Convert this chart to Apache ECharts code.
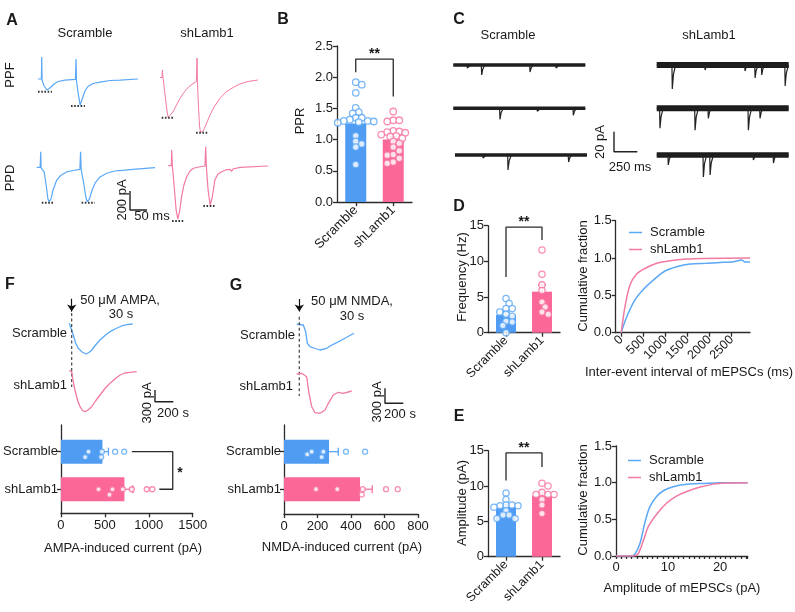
<!DOCTYPE html>
<html><head><meta charset="utf-8">
<script src="https://cdn.jsdelivr.net/npm/echarts@6/dist/echarts.min.js"></script>
<style>html,body{margin:0;padding:0;background:#fff}#c{width:795px;height:612px}</style>
</head><body><div id="c"></div>
<script>
// ================= DATA =================
const groups = ['Scramble', 'shLamb1'];

// Panel A traces: [time (ms), current (pA)]
const ppfScramble = [[0,0],[10,0],[11,232],[12,-11],[18,-74],[26,-116],[35,-95],[47,-53],[59,-26],[79,-11],[110,-3],[112,211],[113,-11],[118,-147],[124,-274],[129,-221],[138,-126],[147,-79],[162,-47],[182,-32],[212,-16],[241,-11],[294,0]];
const ppfShLamb1 = [[0,0],[6,0],[7,79],[9,-5],[15,-184],[21,-363],[24,-419],[29,-405],[38,-363],[47,-300],[56,-237],[65,-184],[77,-126],[88,-89],[100,-58],[107,-42],[109,205],[110,-47],[113,-289],[116,-500],[119,-579],[127,-563],[135,-500],[147,-395],[159,-311],[177,-216],[194,-153],[215,-105],[235,-68],[259,-42],[288,-26]];
const ppdScramble = [[0,0],[10,-2],[12,164],[13,-7],[22,-49],[29,-218],[33,-334],[37,-362],[42,-334],[48,-239],[59,-134],[72,-81],[88,-49],[107,-34],[127,-21],[129,164],[131,-28],[139,-186],[145,-323],[149,-362],[155,-334],[163,-239],[172,-165],[186,-102],[206,-63],[224,-44],[239,-34],[242,-55],[245,-34],[283,-21],[348,-4]];
const ppdShLamb1 = [[0,0],[9,0],[10,165],[12,-3],[17,-203],[23,-466],[28,-561],[33,-487],[39,-329],[46,-203],[54,-116],[64,-56],[74,-27],[90,-14],[108,-3],[110,200],[112,-14],[117,-256],[123,-414],[129,-340],[137,-151],[146,-87],[157,-63],[170,-43],[182,-38],[186,-61],[190,-35],[211,-17],[294,-3]];
// peak markers (dotted) [[t0,I],[t1,I]]
const ppfScramblePeaks = [[[0,-134],[41,-134]], [[97,-284],[138,-284]]];
const ppfShLamb1Peaks = [[[5,-423],[39,-423]], [[106,-581],[141,-581]]];
const ppdScramblePeaks = [[[15,-373],[49,-373]], [[132,-373],[171,-373]]];
const ppdShLamb1Peaks = [[[11,-582],[46,-582]], [[103,-425],[137,-425]]];
const scaleA = [[0,200],[0,0],[50,0]];  // 200 pA, 50 ms

// Panel B: paired-pulse ratio
const pprMean = [1.26, 1.00];
const pprSem = [0.07, 0.05];
const pprScramble = [1.92,1.88,1.75,1.51,1.44,1.42,1.35,1.35,1.32,1.30,1.30,1.29,1.28,1.27,1.06,0.97,0.93,0.88,0.60];
const pprShLamb1 = [1.45,1.31,1.31,1.29,1.14,1.13,1.12,1.11,1.08,1.06,1.05,1.02,0.97,0.94,0.88,0.82,0.76,0.75,0.70,0.64,0.62];
const pprSig = [[0.5,2.08],[0.5,2.29],[1.5,2.29],[1.5,1.69]];

// Panel C: mEPSC events [time (ms), amplitude (pA)] per sweep
const cScramble1 = [[304,10],[822,7],[150,3],[1100,3]];
const cScramble2 = [[500,11],[1286,7],[900,3]];
const cScramble3 = [[568,15],[1217,7],[300,3]];
const cShLamb1_1 = [[167,24],[518,5],[946,6],[1054,13],[1125,10],[1376,21]];
const cShLamb1_2 = [[35,20],[411,22],[553,10],[982,22],[1107,10]];
const cShLamb1_3 = [[124,10],[500,22],[572,20],[1036,5],[1251,8]];
const scaleC = [[0,20],[0,0],[250,0]];  // 20 pA, 250 ms

// Panel D: mEPSC frequency (Hz)
const freqMean = [2.48, 5.75];
const freqSem = [0.42, 0.95];
const freqScramble = [4.8,4.1,3.4,3.4,2.9,2.6,2.3,1.6,1.5,1.0,0.0];
const freqShLamb1 = [11.6,8.2,6.7,5.9,4.3,3.6,2.9,2.6];
const freqSig = [[0.5,7.8],[0.5,14.8],[1.5,14.8],[1.5,13.0]];
const ieiScramble = [[0,0],[124,0.21],[312,0.44],[500,0.58],[727,0.705],[991,0.826],[1256,0.884],[1557,0.92],[1934,0.93],[2235,0.94],[2537,0.95],[2726,0.973],[2801,0.946],[2914,0.946]];
const ieiShLamb1 = [[0,0],[86,0.35],[199,0.64],[350,0.786],[538,0.86],[803,0.93],[1104,0.964],[1482,0.987],[1860,0.995],[2914,1.0]];
const ieiTicks = [0,500,1000,1500,2000,2500];

// Panel E: mEPSC amplitude (pA)
const ampMean = [7.0, 8.6];
const ampSem = [0.32, 0.45];
const ampScramble = [9.0,8.1,7.3,7.3,7.2,7.2,7.0,6.5,5.9,5.9,5.4,5.4];
const ampShLamb1 = [10.4,10.0,9.1,8.8,8.8,8.8,8.1,7.3,6.1];
const ampSig = [[0.5,10.8],[0.5,14.7],[1.5,14.7],[1.5,12.7]];
const cdfAmpScramble = [[0,0],[3.0,0],[3.65,0.027],[4.6,0.17],[5.6,0.47],[6.5,0.67],[7.8,0.81],[9.1,0.89],[11,0.945],[13.6,0.977],[16.8,0.99],[20,1.0],[25.3,1.0]];
const cdfAmpShLamb1 = [[0,0],[3.3,0],[4.3,0.036],[5.3,0.22],[6.2,0.4],[7.8,0.57],[9.7,0.72],[11.7,0.82],[13.6,0.88],[16.2,0.94],[18.7,0.98],[21.3,0.995],[25.3,1.0]];
const ampTicksMajor = [0,10,20];

// Panel F: AMPA-induced current; traces [time (s), current (pA)]
const ampaTraceScramble = [[0,0],[19,-18],[44,-300],[68,-505],[98,-641],[139,-736],[182,-787],[215,-749],[244,-685],[291,-544],[335,-428],[389,-313],[444,-215],[509,-133],[571,-69],[629,-36],[691,-18]];
const ampaTraceShLamb1 = [[0,0],[26,-26],[44,-290],[62,-495],[89,-751],[117,-923],[144,-1021],[171,-1051],[204,-1008],[244,-923],[286,-777],[335,-623],[389,-456],[444,-323],[498,-213],[553,-110],[607,-59],[662,-41],[735,-26]];
const ampaOnset = 26;  // s
const ampaMean = [473, 723];
const ampaSem = [68, 95];
const ampaScramble = [276,314,458,466,617,720];
const ampaShLamb1 = [428,553,587,705,807,977,1041];
const ampaSig = [[807,1],[1273,1],[1273,2],[1120,2]];
const scaleF = [[0,300],[0,0],[200,0]];  // 300 pA, 200 s

// Panel G: NMDA-induced current
const nmdaTraceScramble = [[0,0],[72,-20],[98,-154],[116,-386],[145,-454],[200,-490],[254,-520],[327,-486],[374,-430],[436,-374],[545,-266],[625,-186]];
const nmdaTraceShLamb1 = [[0,0],[55,14],[109,-54],[134,-386],[164,-654],[200,-774],[254,-786],[309,-720],[345,-586],[399,-420],[454,-366],[508,-386],[600,-340]];
const nmdaOnset = 28;  // s
const nmdaMean = [269, 454];
const nmdaSem = [55, 73];
const nmdaScramble = [139,165,225,235,370,484];
const nmdaShLamb1 = [191,318,464,470,609,679];
const scaleG = [[0,300],[0,0],[200,0]];

// ================= STYLE / HELPERS =================
const FONT = '"Liberation Sans", Arial, Helvetica, sans-serif';
const TXT = '#1a1a1a';
const AXC = '#2b2b2b';
const BAR = ['#4f9cf2', '#fb6898'];
const DOT = ['#5aa6f5', '#f7739f'];
const TRACE = ['#5aa8f6', '#f27aa3'];
const plain = v => String(v);

const grids = [], xAxes = [], yAxes = [], series = [], graphics = [];

function merge(a, b) {
  for (const k in b) {
    if (b[k] && typeof b[k] === 'object' && !Array.isArray(b[k]) && typeof b[k] !== 'function' && a[k] && typeof a[k] === 'object') merge(a[k], b[k]);
    else a[k] = b[k];
  }
  return a;
}
function visAxis(extra) {
  return merge({
    axisLine: {show: true, onZero: false, lineStyle: {color: AXC, width: 1.3}},
    axisTick: {show: true, inside: false, length: 4, lineStyle: {color: AXC, width: 1.3}},
    axisLabel: {show: true, color: TXT, fontSize: 13, fontFamily: FONT, margin: 4},
    splitLine: {show: false}
  }, extra);
}
function hidden(min, max, extra) { return merge({type: 'value', show: false, min, max, splitLine: {show: false}}, extra || {}); }
function addGrid(g, xa, ya) {
  grids.push(g);
  const gi = grids.length - 1, xi = [], yi = [];
  [].concat(xa).forEach(a => { xAxes.push(Object.assign({gridIndex: gi}, a)); xi.push(xAxes.length - 1); });
  [].concat(ya).forEach(a => { yAxes.push(Object.assign({gridIndex: gi}, a)); yi.push(yAxes.length - 1); });
  return {gi, xi, yi};
}
function traceGrid(left, base, widthPx, pxX, pxY, topPad, botPad) {
  return addGrid({left, top: base - topPad, width: widthPx, height: topPad + botPad},
    hidden(0, widthPx / pxX), hidden(-botPad / pxY, topPad / pxY));
}
function line(g, data, color, width, extra) {
  series.push(merge({type: 'line', xAxisIndex: g.xi[0], yAxisIndex: g.yi[0], data, symbol: 'none',
    silent: true, clip: false, lineStyle: {color, width}, z: 3}, extra || {}));
}
function swarm(vals, pxPerVal, gap) {
  const order = vals.map((v, i) => i).sort((a, b) => vals[b] - vals[a]);
  const placed = [], off = new Array(vals.length), step = gap * 0.6;
  for (const i of order) {
    const p = vals[i] * pxPerVal;
    for (let k = 0; k < 60; k++) {
      const o = k === 0 ? 0 : (k % 2 ? 1 : -1) * Math.ceil(k / 2) * step;
      if (placed.every(q => Math.hypot(q[0] - o, q[1] - p) >= gap)) { off[i] = o; placed.push([o, p]); break; }
    }
  }
  return off;
}
function dots(xi, yi, vals, center, pxPerVal, pxPerCat, color, diam, gap, horiz) {
  const off = swarm(vals, pxPerVal, gap);
  const data = vals.map((v, i) => horiz ? [v, center + off[i] / pxPerCat] : [center + off[i] / pxPerCat, v]);
  series.push({type: 'scatter', xAxisIndex: xi, yAxisIndex: yi, data, symbol: 'circle', symbolSize: diam,
    silent: true, itemStyle: {color: '#fff', borderColor: color, borderWidth: 1.3}, z: 5});
}
function errSeries(xi, yi, centers, means, sems, cap, horiz) {
  series.push({type: 'custom', xAxisIndex: xi, yAxisIndex: yi, z: 4, silent: true,
    data: means.map((m, i) => horiz ? [m, centers[i], m + sems[i]] : [centers[i], m, m + sems[i]]),
    encode: horiz ? {x: [0, 2], y: 1} : {x: 0, y: [1, 2]},
    renderItem(p, api) {
      let a, b;
      if (horiz) { a = api.coord([api.value(0), api.value(1)]); b = api.coord([api.value(2), api.value(1)]); }
      else { a = api.coord([api.value(0), api.value(1)]); b = api.coord([api.value(0), api.value(2)]); }
      const st = {stroke: DOT[p.dataIndex], lineWidth: 1.3};
      const cs = horiz ? {x1: b[0], y1: b[1] - cap, x2: b[0], y2: b[1] + cap} : {x1: b[0] - cap, y1: b[1], x2: b[0] + cap, y2: b[1]};
      return {type: 'group', children: [{type: 'line', shape: {x1: a[0], y1: a[1], x2: b[0], y2: b[1]}, style: st}, {type: 'line', shape: cs, style: st}]};
    }});
}
function hbar(xi, yi, means, centers) {
  series.push({type: 'custom', xAxisIndex: xi, yAxisIndex: yi, z: 2, silent: true,
    data: means.map((m, i) => [m, centers[i]]), encode: {x: 0, y: 1},
    renderItem(p, api) {
      const v = api.value(0), c = api.value(1);
      const a = api.coord([0, c]), b = api.coord([v, c]);
      const h = api.size([0, 1])[1] * 0.64;
      return {type: 'rect', shape: {x: a[0], y: a[1] - h / 2, width: b[0] - a[0], height: h}, style: {fill: BAR[p.dataIndex]}};
    }});
}
function T(x, y, text, o) {
  o = o || {};
  const al = o.align || 'center';
  graphics.push({type: 'text', x, y, rotation: o.rot ? Math.PI / 2 : 0, silent: true, z: 10,
    style: {text, fill: TXT, font: (o.bold ? 'bold ' : '') + (o.size || 13) + 'px ' + FONT,
      align: al, verticalAlign: 'middle', textAlign: al, textVerticalAlign: 'middle'}});
}
function miniTrace(events, T) {
  const ev = events.slice().sort((a, b) => a[0] - b[0]);
  const pts = [[0, 0]];
  ev.forEach(([t, a]) => { pts.push([t - 4, 0], [t, -a], [t + 12, -a * 0.4], [t + 35, 0]); });
  pts.push([T, 0]);
  return pts;
}

// ================= PANEL A =================
const PXMS_A = 0.34, PXPA_A = 0.095;
const gA1 = traceGrid(38, 79, 100, PXMS_A, PXPA_A, 25, 32);
const gA2 = traceGrid(160, 77.5, 100, PXMS_A, PXPA_A, 25, 60);
const gA3 = traceGrid(36.7, 167.3, 120, PXMS_A, PXPA_A, 20, 40);
const gA4 = traceGrid(168.3, 165.7, 102, PXMS_A, PXPA_A, 22, 60);
line(gA1, ppfScramble, TRACE[0], 1.2);
line(gA2, ppfShLamb1, TRACE[1], 1);
line(gA3, ppdScramble, TRACE[0], 1.2);
line(gA4, ppdShLamb1, TRACE[1], 1.2);
[[gA1, ppfScramblePeaks], [gA2, ppfShLamb1Peaks], [gA3, ppdScramblePeaks], [gA4, ppdShLamb1Peaks]].forEach(([g, pk]) =>
  pk.forEach(seg => line(g, seg, '#333', 2, {lineStyle: {type: [1.6, 1.6]}})));
const gAs = addGrid({left: 130, top: 191, width: 17, height: 19}, hidden(0, 50), hidden(0, 200));
line(gAs, scaleA, '#222', 1.4);

// ================= PANEL B =================
const gB = addGrid({left: 337, top: 46, width: 75, height: 156},
  [visAxis({type: 'category', data: groups, axisTick: {alignWithLabel: true}, axisLabel: {rotate: 45, margin: 6}}), hidden(0, 2)],
  visAxis({type: 'value', min: 0, max: 2.5, interval: 0.5, axisLabel: {formatter: v => v.toFixed(1)}}));
series.push({type: 'bar', xAxisIndex: gB.xi[0], yAxisIndex: gB.yi[0], barWidth: 21, silent: true, z: 2,
  data: pprMean.map((v, i) => ({value: v, itemStyle: {color: BAR[i]}}))});
errSeries(gB.xi[1], gB.yi[0], [0.5, 1.5], pprMean, pprSem, 4, false);
dots(gB.xi[1], gB.yi[0], pprScramble, 0.5, 156 / 2.5, 37.5, DOT[0], 6.5, 5.0, false);
dots(gB.xi[1], gB.yi[0], pprShLamb1, 1.5, 156 / 2.5, 37.5, DOT[1], 6.5, 5.0, false);
line({xi: [gB.xi[1]], yi: gB.yi}, pprSig, AXC, 1.3);

// ================= PANEL C =================
const PXMS_C = 132 / 1414, PXPA_C = 1;
const cRows = [
  [453.3, 65, cScramble1, 3.4], [453.3, 108.3, cScramble2, 3.4], [455, 155, cScramble3, 3.4],
  [656.7, 65, cShLamb1_1, 6.0], [656.7, 108.3, cShLamb1_2, 6.0], [656.7, 155, cShLamb1_3, 5.5]];
cRows.forEach(([x0, y0, ev, w]) => {
  const g = traceGrid(x0, y0, 132, PXMS_C, PXPA_C, 8, 30);
  const Tms = 132 / PXMS_C;
  line(g, [[0, 0], [Tms, 0]], '#1c1c1c', w, {lineStyle: {cap: 'butt'}});
  line(g, miniTrace(ev, Tms), '#222', 1.2);
});
const gCs = addGrid({left: 614, top: 131.7, width: 23.3, height: 20}, hidden(0, 250), hidden(0, 20));
line(gCs, scaleC, '#222', 1.4);

// ================= PANEL D =================
const gD = addGrid({left: 488, top: 225.7, width: 72, height: 107},
  [visAxis({type: 'category', data: groups, axisTick: {alignWithLabel: true}, axisLabel: {rotate: 45, margin: 6, fontSize: 12.5}}), hidden(0, 2)],
  visAxis({type: 'value', min: 0, max: 15, interval: 5}));
series.push({type: 'bar', xAxisIndex: gD.xi[0], yAxisIndex: gD.yi[0], barWidth: 20, silent: true, z: 2,
  data: freqMean.map((v, i) => ({value: v, itemStyle: {color: BAR[i]}}))});
errSeries(gD.xi[1], gD.yi[0], [0.5, 1.5], freqMean, freqSem, 4, false);
dots(gD.xi[1], gD.yi[0], freqScramble, 0.5, 107 / 15, 36, DOT[0], 6.3, 5.2, false);
dots(gD.xi[1], gD.yi[0], freqShLamb1, 1.5, 107 / 15, 36, DOT[1], 6.3, 5.2, false);
line({xi: [gD.xi[1]], yi: gD.yi}, freqSig, AXC, 1.3);

const gD2 = addGrid({left: 615.7, top: 220.7, width: 134.3, height: 112},
  visAxis({type: 'value', min: -124, max: 2914, axisTick: {customValues: ieiTicks}, axisLabel: {customValues: ieiTicks, formatter: plain, rotate: 45, margin: 5, fontSize: 12.5}}),
  visAxis({type: 'value', min: 0, max: 1.5, interval: 0.5, axisLabel: {formatter: v => v.toFixed(1)}}));
series.push({type: 'line', name: 'Scramble', xAxisIndex: gD2.xi[0], yAxisIndex: gD2.yi[0], data: ieiScramble, symbol: 'none', smooth: 0.3, silent: true, lineStyle: {color: TRACE[0], width: 1.5}, itemStyle: {color: TRACE[0]}});
series.push({type: 'line', name: 'shLamb1', xAxisIndex: gD2.xi[0], yAxisIndex: gD2.yi[0], data: ieiShLamb1, symbol: 'none', smooth: 0.3, silent: true, lineStyle: {color: TRACE[1], width: 1.5}, itemStyle: {color: TRACE[1]}});

// ================= PANEL E =================
const gE = addGrid({left: 488, top: 450.7, width: 72, height: 106},
  [visAxis({type: 'category', data: groups, axisTick: {alignWithLabel: true}, axisLabel: {rotate: 45, margin: 6, fontSize: 12.5}}), hidden(0, 2)],
  visAxis({type: 'value', min: 0, max: 15, interval: 5}));
series.push({type: 'bar', xAxisIndex: gE.xi[0], yAxisIndex: gE.yi[0], barWidth: 20, silent: true, z: 2,
  data: ampMean.map((v, i) => ({value: v, itemStyle: {color: BAR[i]}}))});
errSeries(gE.xi[1], gE.yi[0], [0.5, 1.5], ampMean, ampSem, 4, false);
dots(gE.xi[1], gE.yi[0], ampScramble, 0.5, 106 / 15, 36, DOT[0], 6.3, 5.0, false);
dots(gE.xi[1], gE.yi[0], ampShLamb1, 1.5, 106 / 15, 36, DOT[1], 6.3, 5.0, false);
line({xi: [gE.xi[1]], yi: gE.yi}, ampSig, AXC, 1.3);

const gE2 = addGrid({left: 616, top: 446, width: 131.7, height: 110},
  visAxis({type: 'value', min: 0, max: 25.3, interval: 1, axisTick: {length: 3}, axisLabel: {customValues: ampTicksMajor, formatter: plain, margin: 5}}),
  visAxis({type: 'value', min: 0, max: 1.5, interval: 0.5, axisLabel: {formatter: v => v.toFixed(1)}}));
series.push({type: 'line', name: 'Scramble', xAxisIndex: gE2.xi[0], yAxisIndex: gE2.yi[0], data: cdfAmpScramble, symbol: 'none', smooth: 0.3, silent: true, lineStyle: {color: TRACE[0], width: 1.5}, itemStyle: {color: TRACE[0]}});
series.push({type: 'line', name: 'shLamb1', xAxisIndex: gE2.xi[0], yAxisIndex: gE2.yi[0], data: cdfAmpShLamb1, symbol: 'none', smooth: 0.3, silent: true, lineStyle: {color: TRACE[1], width: 1.5}, itemStyle: {color: TRACE[1]}});

// ================= PANEL F =================
const PXS = 0.0917;
function onsetMarks(g, onset, ymaxArrow, yArrowEnd, yDashTop, yDashBot) {
  line(g, [[onset, yDashTop], [onset, yDashBot]], '#444', 1.2, {lineStyle: {type: [3, 2.5]}});
  series.push({type: 'line', xAxisIndex: g.xi[0], yAxisIndex: g.yi[0], data: [], silent: true,
    markLine: {silent: true, animation: false, symbol: ['none', 'arrow'], symbolSize: 7, label: {show: false},
      lineStyle: {color: '#111', width: 1.2, type: 'solid'},
      data: [[{coord: [onset, ymaxArrow]}, {coord: [onset, yArrowEnd]}]]}});
}
const PXPA_F = 0.039;
const gF1 = traceGrid(69.3, 323.3, 70, PXS, PXPA_F, 25.3, 63.7);
line(gF1, ampaTraceScramble, TRACE[0], 1.3);
onsetMarks(gF1, ampaOnset, 630, 300, 264, -1633);
const gF2 = traceGrid(69.3, 370.7, 70, PXS, PXPA_F, 10, 45);
line(gF2, ampaTraceShLamb1, TRACE[1], 1.3);
const gFs = addGrid({left: 155, top: 390, width: 18.3, height: 11.7}, hidden(0, 200), hidden(0, 300));
line(gFs, scaleF, '#222', 1.4);

const gF = addGrid({left: 60.7, top: 425, width: 132, height: 88.3},
  visAxis({type: 'value', min: 0, max: 1500, interval: 500, axisLabel: {margin: 6, formatter: plain}}),
  visAxis({type: 'value', inverse: true, min: 0.29, max: 2.64,
    axisTick: {customValues: [1, 2]}, axisLabel: {customValues: [1, 2], formatter: v => groups[Math.round(v) - 1], margin: 3}}));
hbar(gF.xi[0], gF.yi[0], ampaMean, [1, 2]);
errSeries(gF.xi[0], gF.yi[0], [1, 2], ampaMean, ampaSem, 4, true);
dots(gF.xi[0], gF.yi[0], ampaScramble, 1, 0.088, 37.6, DOT[0], 5, 4.5, true);
dots(gF.xi[0], gF.yi[0], ampaShLamb1, 2, 0.088, 37.6, DOT[1], 5, 4.5, true);
line(gF, ampaSig, AXC, 1.3);

// ================= PANEL G =================
const PXPA_G = 0.05;
const gG1 = traceGrid(296.7, 324, 62, PXS, PXPA_G, 26, 73);
line(gG1, nmdaTraceScramble, TRACE[0], 1.3);
onsetMarks(gG1, nmdaOnset, 500, 250, 146, -1440);
const gG2 = traceGrid(296.7, 374, 60, PXS, PXPA_G, 10, 45);
line(gG2, nmdaTraceShLamb1, TRACE[1], 1.3);
const gGs = addGrid({left: 385, top: 388.3, width: 18.3, height: 15}, hidden(0, 200), hidden(0, 300));
line(gGs, scaleG, '#222', 1.4);

const gG = addGrid({left: 284, top: 425, width: 134, height: 89},
  visAxis({type: 'value', min: 0, max: 800, interval: 200, axisLabel: {margin: 6, formatter: plain}}),
  visAxis({type: 'value', inverse: true, min: 0.29, max: 2.66,
    axisTick: {customValues: [1, 2]}, axisLabel: {customValues: [1, 2], formatter: v => groups[Math.round(v) - 1], margin: 3}}));
hbar(gG.xi[0], gG.yi[0], nmdaMean, [1, 2]);
errSeries(gG.xi[0], gG.yi[0], [1, 2], nmdaMean, nmdaSem, 4, true);
dots(gG.xi[0], gG.yi[0], nmdaScramble, 1, 0.1675, 37.6, DOT[0], 5, 4.5, true);
dots(gG.xi[0], gG.yi[0], nmdaShLamb1, 2, 0.1675, 37.6, DOT[1], 5, 4.5, true);

// ================= TEXT =================
T(12, 21, 'A', {bold: true, size: 16});
T(85, 33, 'Scramble'); T(207, 33, 'shLamb1');
T(10, 75, 'PPF', {rot: true}); T(10, 178, 'PPD', {rot: true});
T(122, 200, '200 pA', {rot: true}); T(152, 216, '50 ms');
T(283, 20, 'B', {bold: true, size: 16});
T(300, 121, 'PPR', {rot: true});
T(459, 20, 'C', {bold: true, size: 16});
T(508, 35, 'Scramble'); T(709, 35, 'shLamb1');
T(600, 142, '20 pA', {rot: true}); T(630, 167, '250 ms');
T(459, 207, 'D', {bold: true, size: 16});
T(462, 277, 'Frequency (Hz)', {rot: true});
T(583, 276, 'Cumulative fraction', {rot: true});
T(689, 372, 'Inter-event interval of mEPSCs (ms)');
T(459, 417, 'E', {bold: true, size: 16});
T(462, 503, 'Amplitude (pA)', {rot: true});
T(583, 500, 'Cumulative fraction', {rot: true});
T(682, 588, 'Amplitude of mEPSCs (pA)');
T(10, 285, 'F', {bold: true, size: 16});
T(120, 300, '50 μM AMPA,'); T(121, 314, '30 s');
T(67, 333, 'Scramble', {align: 'right'}); T(67, 385, 'shLamb1', {align: 'right'});
T(147, 403, '300 pA', {rot: true}); T(173, 413, '200 s');
T(123, 548, 'AMPA-induced current (pA)');
T(236, 286, 'G', {bold: true, size: 16});
T(352, 301, '50 μM NMDA,'); T(352, 316, '30 s');
T(295, 335, 'Scramble', {align: 'right'}); T(293, 386, 'shLamb1', {align: 'right'});
T(377, 402, '300 pA', {rot: true}); T(400, 414, '200 s');
T(342, 547, 'NMDA-induced current (pA)');

// ================= RENDER =================
const chart = echarts.init(document.getElementById('c'), null, {renderer: 'canvas'});
const legendBase = {data: ['Scramble', 'shLamb1'], orient: 'vertical', icon: 'rect', itemWidth: 13, itemHeight: 1.5, itemGap: 4,
  selectedMode: false, textStyle: {fontSize: 13, fontFamily: FONT, color: TXT, padding: [0, 0, 0, 3], lineHeight: 12}};
chart.setOption({
  animation: false,
  backgroundColor: '#fff',
  grid: grids.map(g => Object.assign({containLabel: false, show: false}, g)),
  xAxis: xAxes, yAxis: yAxes, series,
  legend: [Object.assign({left: 624, top: 221}, legendBase), Object.assign({left: 623, top: 449}, legendBase)]
});
// significance stars placed in data coordinates
const stars = [[gB.xi[1], gB.yi[0], [1, 2.37], '**'], [gD.xi[1], gD.yi[0], [1, 15.5], '**'], [gE.xi[1], gE.yi[0], [1, 15.4], '**'], [gF.xi[0], gF.yi[0], [1356, 1.58], '*']];
stars.forEach(([xi, yi, v, s]) => {
  const p = chart.convertToPixel({xAxisIndex: xi, yAxisIndex: yi}, v);
  T(p[0], p[1], s, {bold: true, size: 14});
});
chart.setOption({graphic: {elements: graphics}});
</script></body></html>
